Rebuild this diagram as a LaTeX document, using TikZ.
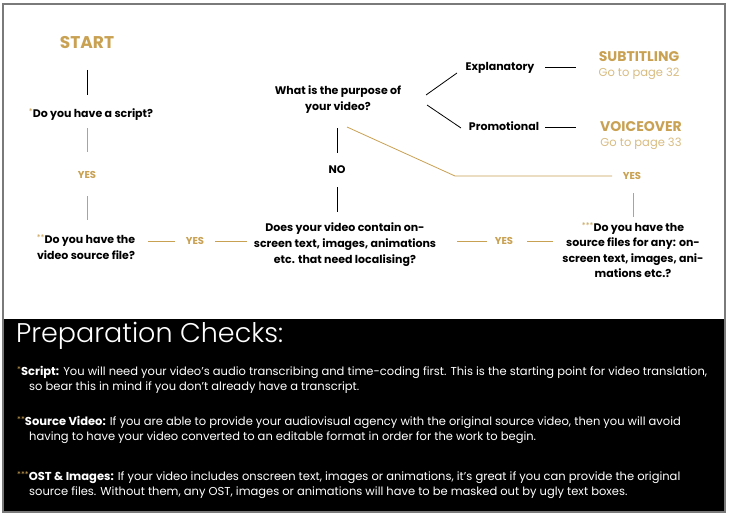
\documentclass[tikz,border=0pt]{standalone}
\usepackage{fontspec}
\setmainfont{Poppins}
\newfontfamily\thinfont{Poppins Light}
\usetikzlibrary{calc,positioning}
\definecolor{GuideGold}{HTML}{C9A152}
\definecolor{GuidePale}{HTML}{D8BC82}
\definecolor{FrameGrey}{HTML}{7A7A7A}
\newcommand{\gstar}[1]{\raisebox{3pt}{\fontsize{8}{8}\selectfont\mdseries\textcolor{GuideGold}{#1}}}

\begin{document}
\begin{tikzpicture}[x=1pt,y=-1pt, every node/.style={font=\fontsize{11}{16}\selectfont\bfseries,align=center,inner sep=1pt},
  title/.style={text=GuideGold,font=\fontsize{17}{20}\selectfont\bfseries},
  outcome/.style={text=GuideGold,font=\fontsize{14}{16}\selectfont\bfseries},
  page/.style={text=GuidePale,font=\fontsize{11.5}{13}\selectfont},
  yes/.style={text=GuideGold,font=\fontsize{10}{12}\selectfont\bfseries},
  blk/.style={draw=black,line width=0.8pt},
  gold/.style={draw=GuideGold,line width=0.8pt},
  note/.style={text=white,anchor=west,align=left,font=\fontsize{11.5}{15}\selectfont}]
\useasboundingbox (0,0) rectangle (730,516);
\fill[white] (0,0) rectangle (730,516);
% checks panel and frame
\fill[black] (3,319) rectangle (725,512);
\draw[FrameGrey,line width=2pt] (3,4) rectangle (725,512);

% flow
\node[title] (start) at (87,43) {START};
\node (script) at (91,115) {\gstar{*}Do you have a script?};
\node[yes] (yes1) at (87,175) {YES};
\node (video) at (86,247) {\gstar{**}Do you have the\\video source file?};
\node[yes] (yes2) at (195,241) {YES};
\node (onscreen) at (345,245) {Does your video contain on-\\screen text, images, animations\\etc. that need localising?};
\node (no) at (337,170) {NO};
\node (purpose) at (338,100) {What is the purpose of\\your video?};
\node (expl) at (500,68) {Explanatory};
\node (promo) at (504,126) {Promotional};
\node[outcome] (subt) at (639,57) {SUBTITLING};
\node[page] (p32) at (639,74) {Go to page 32};
\node[outcome] (vo) at (641,127) {VOICEOVER};
\node[page] (p33) at (641,144) {Go to page 33};
\node[yes] (yes3) at (632,176) {YES};
\node[font=\fontsize{11}{15.5}\selectfont\bfseries] (source) at (633,250) {\gstar{***}Do you have the\\source files for any: on-\\screen text, images, ani-\\mations etc.?};
\node[yes] (yes4) at (504,241) {YES};

\draw[blk] ($(start)+(0,27)$) -- ($(start |- script)+(0,-20)$);
\draw[gold] ($(yes1 |- script)+(0,13)$) -- ($(yes1)+(0,-23)$);
\draw[gold] ($(yes1)+(0,21)$) -- ($(yes1 |- video)+(0,-27)$);
\draw[gold] ($(video)+(62,-6)$) -- ($(yes2)+(-20,0)$);
\draw[gold] ($(yes2)+(20,0)$) -- ($(yes2 -| onscreen)+(-98,0)$);
\draw[blk] ($(purpose)+(-1,28)$) -- ($(no)+(0,-17)$);
\draw[blk] ($(no)+(0,17)$) -- ($(no |- onscreen)+(0,-33)$);
\draw[blk] ($(purpose)+(88,-5)$) -- ($(expl)+(-43,5)$);
\draw[blk] ($(purpose)+(89,5)$) -- ($(promo)+(-43,2)$);
\draw[blk] ($(expl)+(45,-1)$) -- ($(expl -| subt)+(-63,-1)$);
\draw[blk] ($(promo)+(41,1)$) -- ($(promo -| vo)+(-65,1)$);
\draw[gold] ($(purpose)+(9,27)$) -- ($(yes3)+(-177,0)$) -- ($(yes3)+(-20,0)$);
\draw[gold] ($(yes3)+(1,17)$) -- ($(source)+(0,-33)$);
\draw[gold] ($(onscreen)+(112,-4)$) -- ($(yes4)+(-17,0)$);
\draw[gold] ($(yes4)+(23,0)$) -- ($(source)+(-80,-9)$);

% preparation checks
\node[text=white,anchor=west,font=\fontsize{27}{30}\selectfont\thinfont] (checks) at (15,336) {Preparation Checks:};
\node[note] (n1) at (16,380) {\gstar{*}\textbf{Script:} You will need your video's audio transcribing and time-coding first. This is the starting point for video translation,\\\hspace*{12pt}so bear this in mind if you don't already have a transcript.};
\node[note] (n2) at (16,430) {\gstar{**}\textbf{Source Video:} If you are able to provide your audiovisual agency with the original source video, then you will avoid\\\hspace*{12pt}having to have your video converted to an editable format in order for the work to begin.};
\node[note] (n3) at (16,485) {\gstar{***}\textbf{OST \& Images:} If your video includes onscreen text, images or animations, it's great if you can provide the original\\\hspace*{12pt}source files. Without them, any OST, images or animations will have to be masked out by ugly text boxes.};
\end{tikzpicture}
\end{document}
